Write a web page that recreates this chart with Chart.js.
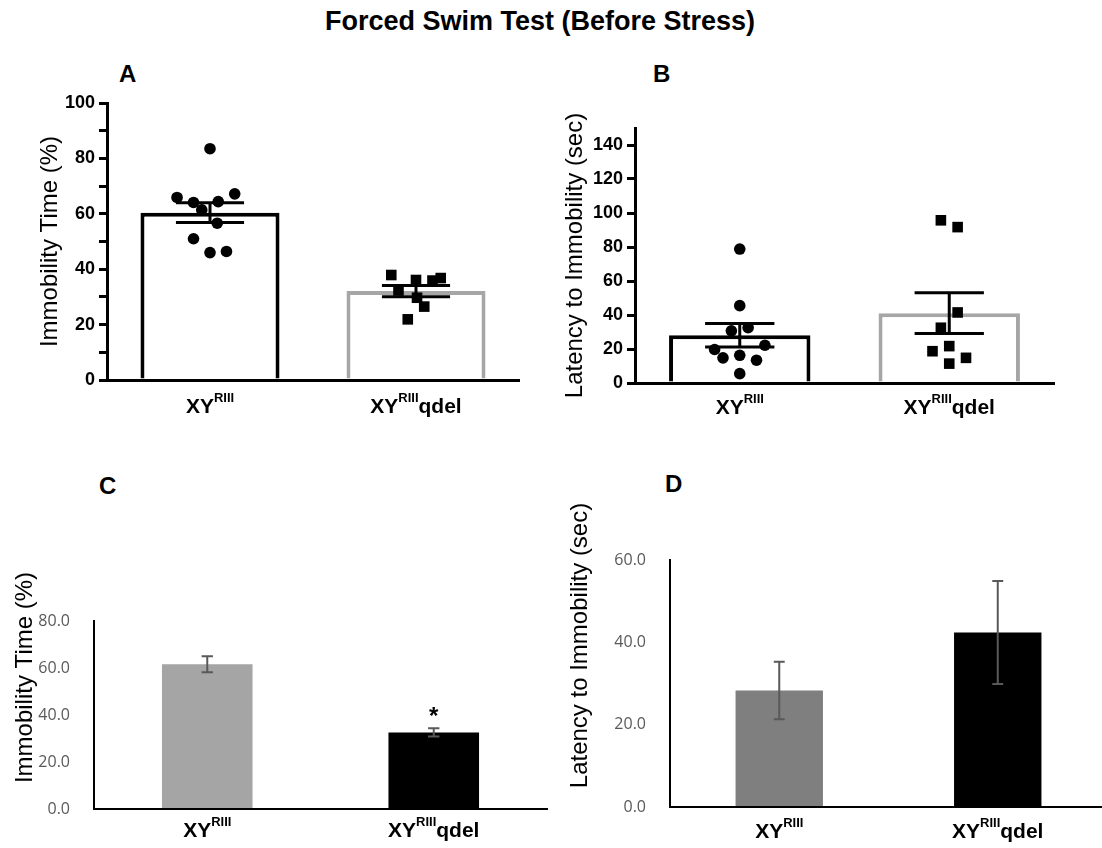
<!DOCTYPE html>
<html>
<head>
<meta charset="utf-8">
<script src="https://cdn.jsdelivr.net/npm/chart.js@4.4.1/dist/chart.umd.min.js"></script>
<style>
  html, body { margin: 0; padding: 0; background: #fff; width: 1102px; height: 848px; overflow: hidden; }
  canvas { position: absolute; }
  .txt { position: absolute; font-family: "Liberation Sans", Arial, sans-serif; font-weight: bold; color: #000; white-space: nowrap; }
</style>
</head>
<body>
<div class="txt" style="left:0;width:1080px;top:6px;text-align:center;font-size:27px;line-height:31px;">Forced Swim Test (Before Stress)</div>
<div class="txt" style="left:119px;top:60px;font-size:24px;line-height:28px;">A</div>
<div class="txt" style="left:653px;top:60px;font-size:24px;line-height:28px;">B</div>
<div class="txt" style="left:99px;top:472px;font-size:24px;line-height:28px;">C</div>
<div class="txt" style="left:665px;top:470px;font-size:24px;line-height:28px;">D</div>

<canvas id="cA" width="540" height="380" style="left:0;top:60px;"></canvas>
<canvas id="cB" width="562" height="380" style="left:540px;top:60px;"></canvas>
<canvas id="cC" width="560" height="388" style="left:0;top:460px;"></canvas>
<canvas id="cD" width="547" height="388" style="left:560px;top:460px;"></canvas>

<script>
// ---------------- data ----------------
const categories = ['XYRIII', 'XYRIIIqdel'];
const labelBase = ['XY', 'XY'];
const labelSup = ['RIII', 'RIII'];
const labelTail = ['', 'qdel'];

// Panel A: Immobility Time (%)
const immobilityMeanA = [60.4, 32.1];
const immobilitySemA = [3.55, 2.05];
const immobilityXY = [83.5, 65.9, 64.1, 61.4, 64.4, 67.2, 56.6, 51.0, 46.0, 46.4];
const immobilityQdel = [37.9, 36.1, 35.9, 36.8, 32.3, 29.7, 26.5, 21.9];
const jitterImmobilityXY = [0, -0.16, -0.08, -0.04, 0.04, 0.12, 0.035, -0.08, 0, 0.08];
const jitterImmobilityQdel = [-0.12, 0, 0.08, 0.12, -0.085, 0.005, 0.04, -0.04];

// Panel B: Latency to Immobility (sec)
const latencyMeanB = [28.1, 41.1];
const latencySemB = [6.9, 12.0];
const latencyXY = [78.8, 45.5, 30.7, 32.5, 19.7, 22.2, 14.8, 16.3, 13.4, 5.5];
const latencyQdel = [95.7, 91.7, 41.5, 32.5, 18.7, 21.7, 14.8, 11.4];
const jitterLatencyXY = [0, 0, -0.04, 0.04, -0.12, 0.12, -0.08, 0, 0.08, 0];
const jitterLatencyQdel = [-0.04, 0.04, 0.04, -0.04, -0.08, 0, 0.08, 0];

// Panel C: Immobility Time (%)
const immobilityMeanC = [61.6, 32.6];
const immobilitySemC = [3.4, 1.8];
const significanceC = ['', '*'];

// Panel D: Latency to Immobility (sec)
const latencyMeanD = [28.3, 42.4];
const latencySemD = [7.0, 12.5];

// ---------------- helpers ----------------
const FONT = '"Liberation Sans", Arial, sans-serif';
Chart.defaults.font.family = FONT;
Chart.defaults.color = '#000';

function points(values, jitter, group) {
  return values.map((v, i) => ({ x: group + jitter[i], y: v }));
}

function errorBars(means, sem, color, lineWidth, capFrac, stars) {
  return {
    id: 'errorBars',
    afterDatasetsDraw(chart) {
      const ctx = chart.ctx;
      const xs = chart.scales.x, ys = chart.scales.y;
      const meta = chart.getDatasetMeta(0);
      ctx.save();
      ctx.strokeStyle = color;
      ctx.lineWidth = lineWidth;
      means.forEach((m, i) => {
        const x = xs.getPixelForValue(i);
        const hi = ys.getPixelForValue(m + sem[i]);
        const lo = ys.getPixelForValue(m - sem[i]);
        const half = meta.data[i].width * capFrac / 2;
        ctx.beginPath();
        ctx.moveTo(x, hi); ctx.lineTo(x, lo);
        ctx.moveTo(x - half, hi); ctx.lineTo(x + half, hi);
        ctx.moveTo(x - half, lo); ctx.lineTo(x + half, lo);
        ctx.stroke();
        if (stars && stars[i]) {
          ctx.fillStyle = '#000';
          ctx.font = 'bold 24px ' + FONT;
          ctx.textAlign = 'center';
          ctx.textBaseline = 'alphabetic';
          ctx.fillText(stars[i], x, hi - 4);
        }
      });
      ctx.restore();
    }
  };
}

function supLabels(offset) {
  return {
    id: 'supLabels',
    afterDraw(chart) {
      const ctx = chart.ctx;
      const xs = chart.scales.x;
      const y = chart.chartArea.bottom + offset;
      const fBase = 'bold 21px ' + FONT, fSup = 'bold 13px ' + FONT;
      ctx.save();
      ctx.fillStyle = '#000';
      ctx.textBaseline = 'alphabetic';
      ctx.textAlign = 'left';
      categories.forEach((c, i) => {
        ctx.font = fBase; const w1 = ctx.measureText(labelBase[i]).width;
        const w3 = ctx.measureText(labelTail[i]).width;
        ctx.font = fSup; const w2 = ctx.measureText(labelSup[i]).width;
        let x = xs.getPixelForValue(i) - (w1 + w2 + w3) / 2;
        ctx.font = fBase; ctx.fillText(labelBase[i], x, y); x += w1;
        ctx.font = fSup; ctx.fillText(labelSup[i], x, y - 11); x += w2;
        ctx.font = fBase; ctx.fillText(labelTail[i], x, y);
      });
      ctx.restore();
    }
  };
}

function yTitle(text, cx, cy) {
  return {
    id: 'yTitleFree',
    afterDraw(chart) {
      const ctx = chart.ctx;
      ctx.save();
      ctx.translate(cx, cy);
      ctx.rotate(-Math.PI / 2);
      ctx.font = '24px ' + FONT;
      ctx.fillStyle = '#000';
      ctx.textAlign = 'center';
      ctx.textBaseline = 'middle';
      ctx.fillText(text, 0, 0);
      ctx.restore();
    }
  };
}

const fixWidth = w => (s) => { s.width = w; };
const fixHeight = h => (s) => { s.height = h; };

// ---------- Panels A and B (GraphPad style) ----------
function prismChart(id, opt) {
  return new Chart(document.getElementById(id), {
    type: 'bar',
    data: {
      labels: categories,
      datasets: [
        {
          type: 'bar', data: opt.means, xAxisID: 'x', yAxisID: 'y', grouped: false,
          backgroundColor: '#ffffff', borderColor: ['#000000', '#a6a6a6'],
          borderWidth: 4, borderSkipped: 'start',
          barPercentage: 0.675, categoryPercentage: 1, order: 3
        },
        {
          type: 'scatter', data: points(opt.xy, opt.jitXY, 0), xAxisID: 'xj', yAxisID: 'y',
          pointStyle: 'circle', pointRadius: 5.8, backgroundColor: '#000', borderWidth: 0, order: 1
        },
        {
          type: 'scatter', data: points(opt.qdel, opt.jitQdel, 1), xAxisID: 'xj', yAxisID: 'y',
          pointStyle: 'rect', pointRadius: 7.5, backgroundColor: '#000', borderWidth: 0, order: 1
        }
      ]
    },
    options: {
      responsive: false, animation: false, devicePixelRatio: 1,
      layout: { padding: opt.padding },
      plugins: { legend: { display: false }, tooltip: { enabled: false } },
      scales: {
        x: {
          type: 'category', offset: true, afterFit: fixHeight(opt.xHeight),
          grid: { display: false }, ticks: { display: false },
          border: { display: true, color: '#000', width: 3, z: 1 }
        },
        xj: { type: 'linear', display: false, offset: false, bounds: 'data', min: -0.5, max: 1.5 },
        y: {
          min: 0, max: opt.max, afterFit: fixWidth(opt.yWidth),
          ticks: {
            stepSize: opt.step, autoSkip: false, includeBounds: false, padding: 4,
            font: { size: 18, weight: 'bold' }, color: '#000',
            callback: v => (v % opt.labelEvery === 0 ? String(v) : '')
          },
          grid: { display: true, drawOnChartArea: false, drawTicks: true, tickLength: 8, color: '#000', lineWidth: 3 },
          border: { display: true, color: '#000', width: 3, z: 1 },
          title: { display: true, text: opt.title, font: { size: 24 }, color: '#000', padding: { top: opt.titlePad, bottom: 0 } }
        }
      }
    },
    plugins: [errorBars(opt.means, opt.sem, '#000', 3, 0.49, null), supLabels(opt.labelOffset)]
  });
}

prismChart('cA', {
  means: immobilityMeanA, sem: immobilitySemA, xy: immobilityXY, qdel: immobilityQdel,
  jitXY: jitterImmobilityXY, jitQdel: jitterImmobilityQdel,
  max: 100, step: 10, labelEvery: 20, title: 'Immobility Time (%)',
  padding: { left: 0, top: 43, right: 21, bottom: 0 }, yWidth: 107, xHeight: 60, titlePad: 35.6, labelOffset: 33
});

prismChart('cB', {
  means: latencyMeanB, sem: latencySemB, xy: latencyXY, qdel: latencyQdel,
  jitXY: jitterLatencyXY, jitQdel: jitterLatencyQdel,
  max: 150, step: 20, labelEvery: 20, title: 'Latency to Immobility (sec)',
  padding: { left: 0, top: 68, right: 48, bottom: 0 }, yWidth: 95, xHeight: 57, titlePad: 20.6, labelOffset: 31
});

// ---------- Panels C and D (Excel style) ----------
function excelChart(id, opt) {
  return new Chart(document.getElementById(id), {
    type: 'bar',
    data: {
      labels: categories,
      datasets: [{
        data: opt.means, backgroundColor: opt.colors, borderWidth: 0,
        barPercentage: 0.4, categoryPercentage: 1
      }]
    },
    options: {
      responsive: false, animation: false, devicePixelRatio: 1,
      layout: { padding: opt.padding },
      plugins: { legend: { display: false }, tooltip: { enabled: false } },
      scales: {
        x: {
          type: 'category', offset: true, afterFit: fixHeight(opt.xHeight),
          grid: { display: false }, ticks: { display: false },
          border: { display: true, color: '#000', width: 2, z: 1 }
        },
        y: {
          min: 0, max: opt.max, afterFit: fixWidth(opt.yWidth),
          ticks: {
            stepSize: 20, autoSkip: false, padding: 16,
            font: { family: '"Open Sans", sans-serif', size: 16 }, color: '#595959',
            callback: v => v.toFixed(1)
          },
          grid: { display: false },
          border: { display: true, color: '#000', width: 2, z: 1 }
        }
      }
    },
    plugins: [
      errorBars(opt.means, opt.sem, '#595959', 2, 0.125, opt.stars),
      supLabels(opt.labelOffset),
      yTitle(opt.title, opt.titleX, opt.titleY)
    ]
  });
}

excelChart('cC', {
  means: immobilityMeanC, sem: immobilitySemC, colors: ['#a5a5a5', '#000000'], stars: significanceC,
  max: 80, title: 'Immobility Time (%)', titleX: 25, titleY: 217.5,
  padding: { left: 0, top: 161, right: 13, bottom: 0 }, yWidth: 94, xHeight: 39, labelOffset: 28
});

excelChart('cD', {
  means: latencyMeanD, sem: latencySemD, colors: ['#7f7f7f', '#000000'], stars: null,
  max: 60, title: 'Latency to Immobility (sec)', titleX: 20, titleY: 185.5,
  padding: { left: 0, top: 100, right: 0, bottom: 0 }, yWidth: 110, xHeight: 41, labelOffset: 31
});
</script>
</body>
</html>
